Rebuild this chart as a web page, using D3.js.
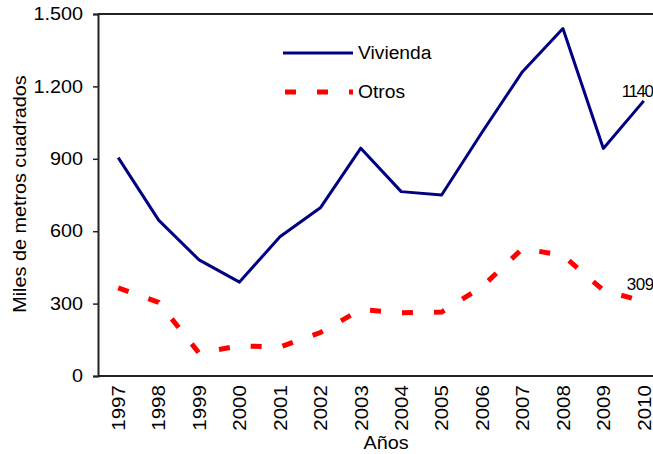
<!DOCTYPE html>
<html>
<head>
<meta charset="utf-8">
<script src="https://cdn.jsdelivr.net/npm/d3@7"></script>
<style>
  body { margin: 0; background: #fff; }
  text { font-family: "Liberation Sans", Arial, sans-serif; fill: #000; }
</style>
</head>
<body>
<svg id="svg1" width="653" height="454"></svg>
<script>
const years = ["1997", "1998", "1999", "2000", "2001", "2002", "2003", "2004", "2005", "2006", "2007", "2008", "2009", "2010"];
const vivienda = [905, 646, 481, 389, 577, 697, 944, 764, 750, 1010, 1261, 1440, 943, 1140];
const otros = [365, 305, 95, 125, 120, 180, 275, 262, 265, 370, 528, 500, 355, 309];
const yTicks = [0, 300, 600, 900, 1200, 1500];
const endLabels = ["1140", "309"];

const svg = d3.select("svg#svg1");
const margin = { top: 14, left: 98 };
const plotRight = 664;
const plotBottom = 376;
const stretch = 1.1; // the source font is a bit wider than Liberation Sans

const x = d3.scalePoint().domain(years).range([margin.left, plotRight]).padding(0.5);
const y = d3.scaleLinear().domain([0, 1500]).range([plotBottom, margin.top]);
const fmt = d3.formatLocale({ decimal: ",", thousands: ".", grouping: [3], currency: ["", ""] }).format(",d");

// frame: top border, left + bottom axis
svg.append("line")
    .attr("x1", margin.left).attr("x2", plotRight)
    .attr("y1", margin.top).attr("y2", margin.top)
    .attr("stroke", "#222").attr("stroke-width", 2);

let leftAxis = d3.axisLeft(y).tickValues(yTicks).tickSize(5).tickPadding(10).tickFormat(fmt);
let yAxisG = svg.append("g")
    .attr("transform", `translate(${margin.left},0)`)
    .call(leftAxis);
yAxisG.select(".domain").attr("stroke", "#222").attr("stroke-width", 2);
yAxisG.selectAll(".tick line").attr("stroke", "#222").attr("stroke-width", 1.5);
yAxisG.selectAll("text")
    .style("font-size", "18px").attr("fill", "#000")
    .attr("x", 0)
    .attr("transform", `translate(-15,0) scale(${stretch},1)`);

let bottomAxis = d3.axisBottom(x).tickSize(0).tickPadding(0);
let xAxisG = svg.append("g")
    .attr("transform", `translate(0,${plotBottom})`)
    .call(bottomAxis);
xAxisG.select(".domain").attr("d", `M${margin.left},0H${plotRight}`)
    .attr("stroke", "#222").attr("stroke-width", 2);
xAxisG.selectAll("text")
    .style("font-size", "18px").attr("fill", "#000")
    .attr("text-anchor", "end")
    .attr("transform", "rotate(-90) scale(1.14,1)")
    .attr("x", -8).attr("y", 0).attr("dy", "0.35em");

// axis titles
svg.append("text")
    .attr("transform", `translate(26,194) rotate(-90) scale(${stretch},1)`)
    .attr("text-anchor", "middle")
    .style("font-size", "18px")
    .text("Miles de metros cuadrados");
svg.append("text")
    .attr("transform", `translate(386,449) scale(${stretch},1)`)
    .attr("text-anchor", "middle")
    .style("font-size", "18px")
    .text("Años");

// lines
const lineGen = d3.line()
    .x((d, i) => x(years[i]))
    .y(d => y(d));

svg.append("path")
    .attr("d", lineGen(vivienda))
    .attr("fill", "none")
    .attr("stroke", "#000080")
    .attr("stroke-width", 3)
    .attr("stroke-linejoin", "round");

svg.append("path")
    .attr("d", lineGen(otros))
    .attr("fill", "none")
    .attr("stroke", "#ff0000")
    .attr("stroke-width", 5)
    .attr("stroke-dasharray", "11,21");

// end labels
svg.append("text")
    .attr("x", x("2010") - 22).attr("y", y(vivienda[13]) - 4)
    .style("font-size", "17px").style("letter-spacing", "-1.5px")
    .text(endLabels[0]);
svg.append("text")
    .attr("x", x("2010") - 17).attr("y", y(otros[13]) - 11)
    .style("font-size", "17px").style("letter-spacing", "-0.5px")
    .text(endLabels[1]);

// legend
const legend = svg.append("g");
legend.append("line")
    .attr("x1", 283).attr("x2", 353).attr("y1", 53).attr("y2", 53)
    .attr("stroke", "#000080").attr("stroke-width", 3);
legend.append("text")
    .attr("transform", `translate(358,59) scale(1.07,1)`)
    .style("font-size", "18px").text("Vivienda");
legend.append("line")
    .attr("x1", 285).attr("x2", 353).attr("y1", 92).attr("y2", 92)
    .attr("stroke", "#ff0000").attr("stroke-width", 5)
    .attr("stroke-dasharray", "11,21");
legend.append("text")
    .attr("transform", `translate(358,98) scale(1.07,1)`)
    .style("font-size", "18px").text("Otros");
</script>
</body>
</html>
